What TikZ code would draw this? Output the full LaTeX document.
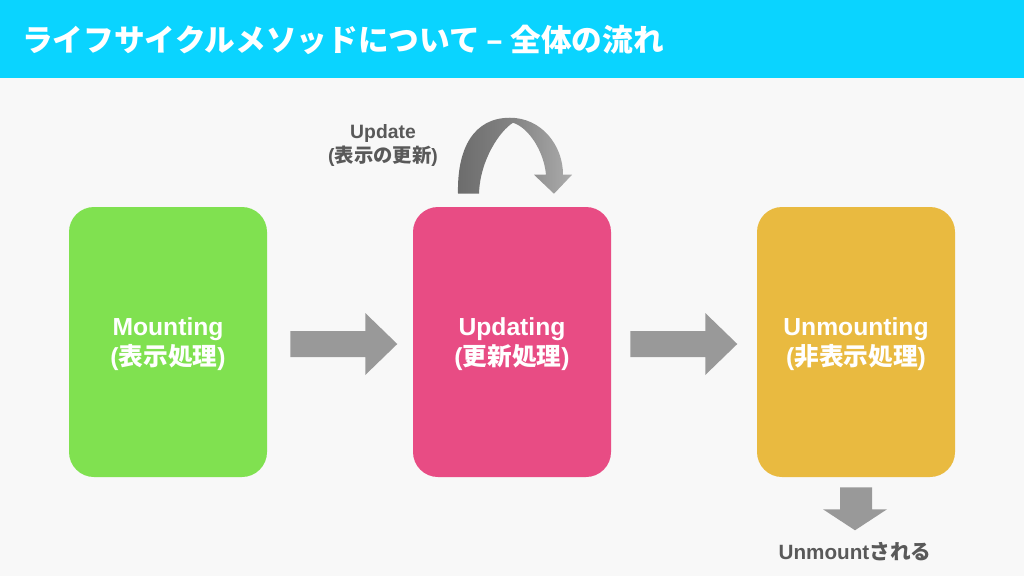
\documentclass[tikz,border=0pt]{standalone}
\usepackage{fontspec}
\setmainfont{Liberation Sans}
\newfontfamily\cjk{Noto Sans CJK JP}
\usetikzlibrary{calc}
\definecolor{bg}{RGB}{248,248,248}
\definecolor{header}{RGB}{10,212,255}
\definecolor{cgreen}{RGB}{128,225,80}
\definecolor{cpink}{RGB}{232,76,132}
\definecolor{cyellow}{RGB}{233,186,64}
\definecolor{agray}{RGB}{153,153,153}
\definecolor{tgray}{RGB}{89,89,89}
\begin{document}
\begin{tikzpicture}[x=0.75pt,y=-0.75pt,
  phase/.style={rounded corners=18.75pt, minimum width=148.5pt, minimum height=202.5pt, inner sep=0pt},
  phasetxt/.style={inner sep=0pt, text=white, font=\fontsize{18.5}{23}\selectfont\bfseries, align=center},
  lbl/.style={text=tgray, inner sep=0pt, align=center}]
\useasboundingbox (0,0) rectangle (1024,576);
\fill[bg] (0,0) rectangle (1024,576);
\fill[header] (0,0) rectangle (1024,78);
\node[anchor=west, text=white, inner sep=0pt, font=\fontsize{23}{27}\selectfont\bfseries\cjk] (title) at (22,40)
  {ライフサイクルメソッドについて – 全体の流れ};

\node[phase, fill=cgreen] (m) at (168,342) {};
\node[phase, fill=cpink] (u) at (512,342) {};
\node[phase, fill=cyellow] (x) at (856,342) {};
\node[phasetxt] (mt) at ($(m.center)+(0,2)$) {Mounting\\({\cjk 表示処理})};
\node[phasetxt] (ut) at ($(u.center)+(0,2)$) {Updating\\({\cjk 更新処理})};
\node[phasetxt] (xt) at ($(x.center)+(0,2)$) {Unmounting\\({\cjk 非表示処理})};

% block arrows between phases
\foreach \a/\b/\o [count=\i] in {m/u/23, u/x/19}{
  \coordinate (s\i) at ($(\a.east)+(\o,2)$);
  \fill[agray] (s\i) ++(0,-13) -- ++(75,0) -- ++(0,-18) -- ++(32,31) -- ++(-32,31) -- ++(0,-18) -- ++(-75,0) -- cycle;
}

% down arrow
\coordinate (d) at ($(x.south)+(0,10)$);
\fill[agray] (d) ++(-16,0) -- ++(32,0) -- ++(0,22) -- ++(15,0) -- ++(-32,21) -- ++(-32,-21) -- ++(17,0) -- cycle;
\node[lbl, font=\fontsize{15.5}{18}\selectfont\bfseries] (unm) at (855,552) {Unmount{\cjk される}};

% curved update arrow (loop on the Updating box)
\coordinate (c) at ($(u.north)+(0,-13)$);
\shade[left color={rgb,255:red,108;green,108;blue,108}, right color={rgb,255:red,172;green,172;blue,172},
       middle color={rgb,255:red,132;green,132;blue,132}]
  ($(c)+(-54,0)$) .. controls ($(c)+(-55,-46)$) and ($(c)+(-38,-76)$) .. ($(c)+(-2,-76)$)
  .. controls ($(c)+(29,-76)$) and ($(c)+(51,-49)$) .. ($(c)+(51,-19)$)
  -- ($(c)+(60,-19)$) -- ($(c)+(42,0)$) -- ($(c)+(22,-19)$) -- ($(c)+(34,-19)$)
  .. controls ($(c)+(32,-42)$) and ($(c)+(17,-66)$) .. ($(c)+(1,-71)$)
  .. controls ($(c)+(-12,-63)$) and ($(c)+(-32,-34)$) .. ($(c)+(-33,0)$) -- cycle;
\node[lbl, font=\fontsize{14.5}{18}\selectfont\bfseries] (upd) at (383,145) {Update\\({\cjk 表示の更新})};
\end{tikzpicture}
\end{document}
